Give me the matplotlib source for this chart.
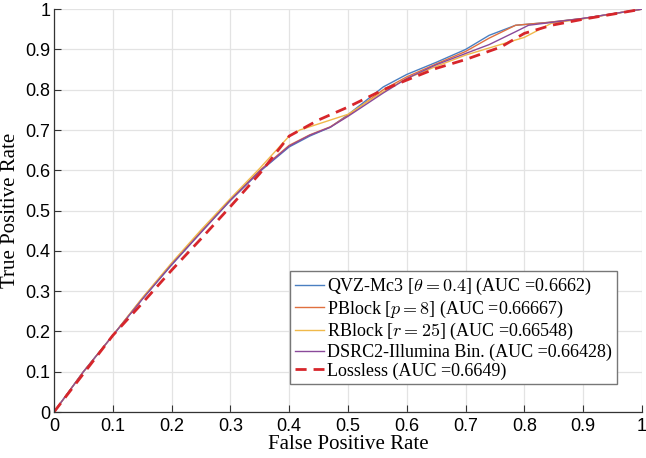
#!/usr/bin/env python3

'''ROC curves of the quality value compressors against the lossless data'''

import matplotlib
matplotlib.use('Agg')
import matplotlib.pyplot as plt

#---------------------------------------------------------------------------------------#
#		Data
#---------------------------------------------------------------------------------------#

fpr_qvz 	= [0,0.05,0.1,0.15,0.2,0.25,0.3,0.35,0.4,0.435,0.47,0.5,0.56,0.6,0.65,0.7,0.74,0.785,0.84,0.9,1.0]
tpr_qvz 	= [0,0.10,0.19,0.28,0.365,0.446,0.525,0.597,0.658,0.685,0.707,0.738,0.807,0.838,0.868,0.900,0.935,0.960,0.967,0.977,1.0]

fpr_pblock 	= [0,0.05,0.1,0.15,0.2,0.25,0.3,0.35,0.4,0.435,0.47,0.5,0.56,0.6,0.65,0.7,0.74,0.785,0.84,0.9,1.0]
tpr_pblock 	= [0,0.10,0.19,0.282,0.368,0.448,0.527,0.600,0.662,0.688,0.708,0.736,0.800,0.832,0.864,0.895,0.928,0.960,0.967,0.977,1.0]

fpr_rblock 	= [0,0.05,0.1,0.15,0.2,0.25,0.3,0.35,0.4,0.418,0.5,0.56,0.6,0.65,0.7,0.75,0.8,0.846,0.9,1.0]
tpr_rblock 	= [0,0.10,0.19,0.283,0.370,0.452,0.530,0.605,0.685,0.700,0.739,0.795,0.828,0.858,0.886,0.908,0.930,0.965,0.976,1.0]

fpr_dsrc 	= [0,0.05,0.1,0.15,0.2,0.25,0.3,0.35,0.4,0.435,0.47,0.5,0.56,0.6,0.65,0.7,0.74,0.785,0.807,0.84,0.9,1.0]
tpr_dsrc 	= [0,0.10,0.19,0.28,0.366,0.446,0.526,0.598,0.660,0.687,0.707,0.734,0.792,0.828,0.862,0.890,0.912,0.944,0.960,0.966,0.977,1.0]

fpr_lossless 	= [0,0.05,0.1,0.15,0.2,0.25,0.3,0.35,0.4,0.45,0.5,0.56,0.6,0.65,0.7,0.76,0.8,0.846,0.9,1.0]
tpr_lossless 	= [0,0.095,0.19,0.270,0.352,0.430,0.510,0.592,0.685,0.725,0.757,0.800,0.824,0.853,0.875,0.906,0.940,0.960,0.975,1.0]

labels 		= [r'QVZ-Mc3 [$\theta = 0.4$] (AUC =0.6662)',
		   r'PBlock [$p = 8$] (AUC =0.66667)',
		   r'RBlock [$r = 25$] (AUC =0.66548)',
		   r'DSRC2-Illumina Bin. (AUC =0.66428)',
		   r'Lossless (AUC =0.6649)']

ticks 		= [0,0.1,0.2,0.3,0.4,0.5,0.6,0.7,0.8,0.9,1]
tick_labels 	= ['0','0.1','0.2','0.3','0.4','0.5','0.6','0.7','0.8','0.9','1']

#---------------------------------------------------------------------------------------#
#		Plot
#---------------------------------------------------------------------------------------#

plt.rcParams['mathtext.fontset'] 	= 'cm'
plt.rcParams['font.family'] 		= ['Liberation Serif','DejaVu Serif']

fig = plt.figure(figsize=(6.46,4.58),dpi=100)
ax  = fig.add_axes([0.0836,0.1004,0.9102,0.8796])

ax.plot(fpr_qvz,tpr_qvz,color='#4a7fc1',lw=1.0,label=labels[0])
ax.plot(fpr_pblock,tpr_pblock,color='#e0703f',lw=1.0,label=labels[1])
ax.plot(fpr_rblock,tpr_rblock,color='#f0b94a',lw=1.0,label=labels[2])
ax.plot(fpr_dsrc,tpr_dsrc,color='#8a4a9a',lw=1.0,label=labels[3])
ax.plot(fpr_lossless,tpr_lossless,color='#d7262b',lw=2.0,ls=(0,(4,2.5)),label=labels[4])

ax.set_xlim(0,1)
ax.set_ylim(0,1)

ax.set_xticks(ticks)
ax.set_yticks(ticks)
ax.set_xticklabels(tick_labels,family='Liberation Sans',fontsize=13)
ax.set_yticklabels(tick_labels,family='Liberation Sans',fontsize=13)

ax.tick_params(direction='in',length=5,width=0.8,color='#333333')
ax.tick_params(axis='x',pad=4.5)
ax.tick_params(axis='y',pad=2.5)
ax.grid(True,color='#e3e3e3',lw=0.9)
ax.set_axisbelow(True)

for side in ['top','right']:
	ax.spines[side].set_visible(False)
for side in ['left','bottom']:
	ax.spines[side].set_color('#333333')
	ax.spines[side].set_linewidth(0.9)

ax.set_xlabel('False Positive Rate',fontsize=15,labelpad=0)
ax.set_ylabel('True Positive Rate',fontsize=15,labelpad=4)

leg = ax.legend(loc='lower right',bbox_to_anchor=(0.957,0.069),borderaxespad=0,fontsize=13,
		handlelength=1.6,handletextpad=0.2,labelspacing=0.08,borderpad=0.25,
		fancybox=False,framealpha=1,edgecolor='#777777')
leg.get_frame().set_linewidth(1.0)

fig.savefig('out.png',dpi=100)
